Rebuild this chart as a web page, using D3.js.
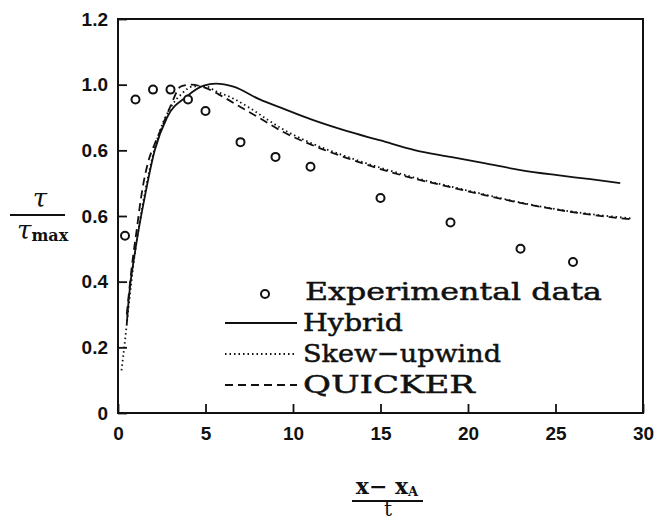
<!DOCTYPE html>
<meta charset="utf-8">
<html>
<head>
  <script src="https://d3js.org/d3.v7.min.js"></script>
  <style>
    body { margin: 0; background: #fff; }
    .tick-label { font-family: 'Liberation Sans', Arial, sans-serif; font-weight: bold; font-size: 19px; fill: #111; }
    .legend-text { font-family: 'DejaVu Serif', serif; font-size: 25px; fill: #111; stroke: #111; stroke-width: 0.5; }
    .frac { font-family: 'DejaVu Serif', serif; fill: #111; }
  </style>
</head>
<body>
<script>
  // axis ticks
  var xTicks = [0, 5, 10, 15, 20, 25, 30];
  var yTicks = [0, 0.2, 0.4, 0.6, 0.8, 1.0, 1.2];
  var yTickLabels = ['0', '0.2', '0.4', '0.6', '0.6', '1.0', '1.2'];

  // experimental data (circles)
  var expX = [0.4, 1, 2, 3, 4, 5, 7, 9, 11, 15, 19, 23, 26];
  var expY = [0.54, 0.955, 0.985, 0.985, 0.955, 0.92, 0.825, 0.78, 0.75, 0.655, 0.58, 0.50, 0.46];

  // Hybrid (solid)
  var hybridX = [0.5, 0.6, 1.0, 1.5, 2.1, 2.8, 3.9, 4.9, 5.6, 6.6, 8.1, 9.3, 11, 13, 15, 17, 19, 21, 23, 25, 27, 28.7];
  var hybridY = [0.27, 0.34, 0.50, 0.65, 0.80, 0.90, 0.963, 0.997, 1.003, 0.994, 0.955, 0.93, 0.895, 0.86, 0.83, 0.80, 0.78, 0.76, 0.74, 0.725, 0.712, 0.70];

  // Skew-upwind (dotted)
  var skewX = [0.2, 0.4, 0.6, 0.9, 1.3, 1.8, 2.4, 3.0, 3.6, 4.3, 5.0, 5.6, 6.5, 7.5, 8.5, 9.3, 11, 13, 15, 17, 19, 21, 23, 25, 27, 29.3];
  var skewY = [0.13, 0.22, 0.32, 0.46, 0.60, 0.74, 0.86, 0.93, 0.97, 0.995, 0.995, 0.98, 0.96, 0.93, 0.895, 0.868, 0.823, 0.782, 0.747, 0.716, 0.69, 0.665, 0.641, 0.621, 0.606, 0.593];

  // QUICKER (dashed)
  var quickX = [0.5, 0.8, 1.1, 1.3, 1.7, 2.1, 2.5, 3.0, 3.6, 4.2, 5.0, 6, 7, 8.1, 9.3, 11, 13, 15, 17, 19, 21, 23, 25, 27, 29.3];
  var quickY = [0.30, 0.45, 0.57, 0.65, 0.76, 0.82, 0.87, 0.935, 0.995, 1.0, 0.99, 0.963, 0.932, 0.898, 0.86, 0.818, 0.778, 0.743, 0.713, 0.688, 0.663, 0.64, 0.62, 0.604, 0.59];

  var legendNames = ['Experimental data', 'Hybrid', 'Skew\u2212upwind', 'QUICKER'];

  var W = 661, H = 523;
  var m = { top: 19, right: 18, bottom: 110, left: 118 };
  var w = W - m.left - m.right, h = H - m.top - m.bottom;

  var svg = d3.select('body').append('svg')
    .attr('width', W).attr('height', H);
  var g = svg.append('g').attr('transform', `translate(${m.left},${m.top})`);

  var x = d3.scaleLinear().domain([0, 30]).range([0, w]);
  var y = d3.scaleLinear().domain([0, 1.2]).range([h, 0]);

  // frame
  g.append('rect')
    .attr('width', w).attr('height', h)
    .attr('fill', 'none').attr('stroke', '#111').attr('stroke-width', 2);

  // x axis, ticks pointing inward
  var xAxis = g.append('g').attr('transform', `translate(0,${h})`)
    .call(d3.axisBottom(x).tickValues(xTicks).tickSize(-9).tickPadding(14));
  xAxis.select('.domain').remove();
  xAxis.selectAll('line').attr('stroke', '#111').attr('stroke-width', 1.8);
  xAxis.selectAll('text').attr('class', 'tick-label').attr('fill', null);

  // y axis, ticks pointing inward
  var yAxis = g.append('g')
    .call(d3.axisLeft(y).tickValues(yTicks).tickSize(-9).tickPadding(10)
      .tickFormat((d, i) => yTickLabels[i]));
  yAxis.select('.domain').remove();
  yAxis.selectAll('line').attr('stroke', '#111').attr('stroke-width', 1.8);
  yAxis.selectAll('text').attr('class', 'tick-label').attr('fill', null);

  var line = d3.line().x(d => x(d[0])).y(d => y(d[1])).curve(d3.curveMonotoneX);

  g.append('path').datum(d3.zip(hybridX, hybridY))
    .attr('d', line).attr('fill', 'none').attr('stroke', '#111').attr('stroke-width', 1.8);
  g.append('path').datum(d3.zip(skewX, skewY))
    .attr('d', line).attr('fill', 'none').attr('stroke', '#111').attr('stroke-width', 1.8)
    .attr('stroke-dasharray', '1.5 3');
  g.append('path').datum(d3.zip(quickX, quickY))
    .attr('d', line).attr('fill', 'none').attr('stroke', '#111').attr('stroke-width', 1.8)
    .attr('stroke-dasharray', '8 5');

  g.selectAll('circle.exp').data(d3.zip(expX, expY)).enter()
    .append('circle').attr('class', 'exp')
    .attr('cx', d => x(d[0])).attr('cy', d => y(d[1])).attr('r', 4)
    .attr('fill', '#fff').attr('stroke', '#111').attr('stroke-width', 2);

  // legend
  var lg = svg.append('g').attr('transform', 'translate(225,300)');
  var styles = [null, 'none', '1.5 3', '8 5'];
  var textLens = [297, 100, 198, 172];
  legendNames.forEach(function (name, i) {
    var yy = i * 31;
    if (i === 0) {
      lg.append('circle').attr('cx', 40).attr('cy', yy - 6).attr('r', 4)
        .attr('fill', '#fff').attr('stroke', '#111').attr('stroke-width', 2);
    } else {
      lg.append('line').attr('x1', 0).attr('x2', 72)
        .attr('y1', yy - 8).attr('y2', yy - 8)
        .attr('stroke', '#111').attr('stroke-width', 1.8)
        .attr('stroke-dasharray', styles[i] === 'none' ? null : styles[i]);
    }
    lg.append('text').attr('class', 'legend-text')
      .attr('x', i === 0 ? 80 : 78).attr('y', yy)
      .attr('textLength', textLens[i]).attr('lengthAdjust', 'spacingAndGlyphs')
      .text(name);
  });

  // y label: tau / tau_max
  var yl = svg.append('g').attr('class', 'frac');
  yl.append('text').attr('x', 40).attr('y', 207).attr('text-anchor', 'middle')
    .attr('font-style', 'italic').attr('font-size', 26).text('\u03c4');
  yl.append('line').attr('x1', 10).attr('x2', 65).attr('y1', 215).attr('y2', 215)
    .attr('stroke', '#111').attr('stroke-width', 1.8);
  var t2 = yl.append('text').attr('x', 17).attr('y', 239);
  t2.append('tspan').attr('font-style', 'italic').attr('font-size', 26).text('\u03c4');
  t2.append('tspan').attr('font-weight', 'bold').attr('font-size', 16).attr('dy', 2).text('max');

  // x label: (x - x_A) / t
  var xl = svg.append('g').attr('class', 'frac');
  var t3 = xl.append('text').attr('x', 387).attr('y', 494).attr('text-anchor', 'middle')
    .attr('font-size', 22).attr('font-weight', 'bold');
  t3.append('tspan').text('x\u2212 x');
  t3.append('tspan').attr('font-size', 13).attr('dy', 2).text('A');
  xl.append('line').attr('x1', 352).attr('x2', 423).attr('y1', 501).attr('y2', 501)
    .attr('stroke', '#111').attr('stroke-width', 1.8);
  xl.append('text').attr('x', 388).attr('y', 516).attr('text-anchor', 'middle')
    .attr('font-size', 20).text('t');
</script>
</body>
</html>
